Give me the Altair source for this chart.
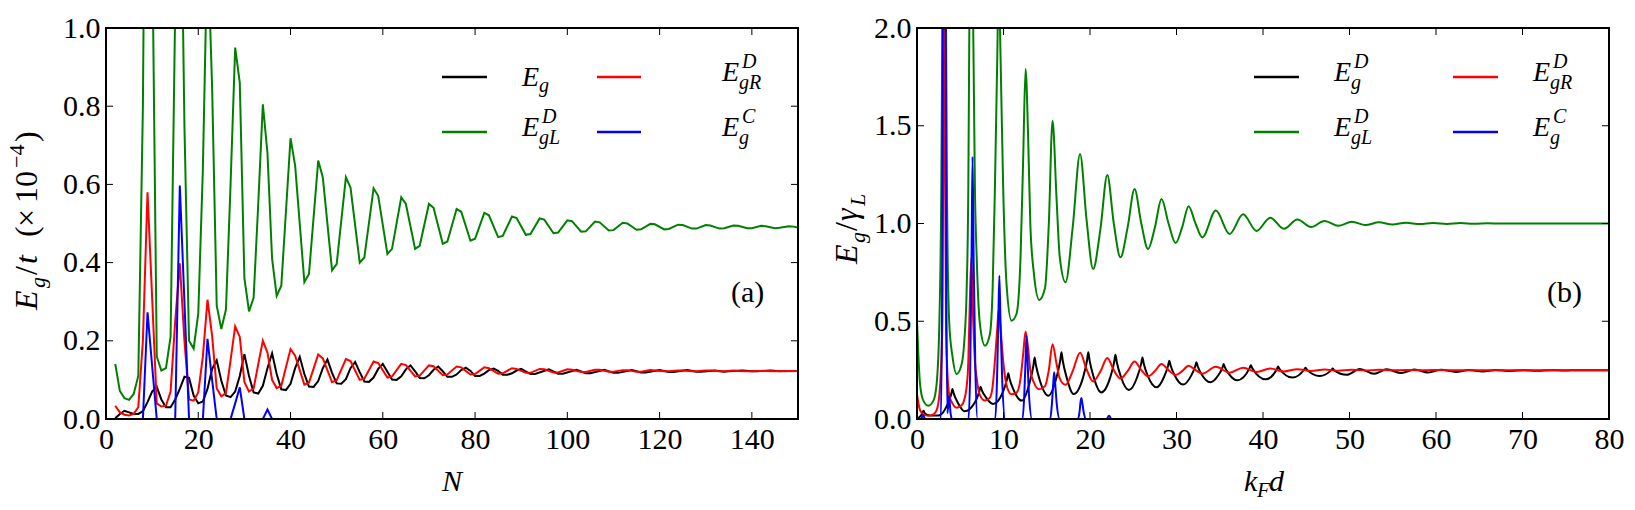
import altair as alt
import pandas as pd

SERIF = "Liberation Serif, DejaVu Serif, serif"
PW, PH = 692, 391   # plot area of each panel, px
TICK = 7            # inward tick length, px

BLACK, GREEN, RED, BLUE = "#000000", "#008000", "#ff0000", "#0000ff"

# ---------------- panel (a): gap versus number of sites N ----------------
A_BLACK = [[2,0.002],[3,0.013],[4,0.021],[5,0.017],[6,0.013],[7,0.013],[8,0.02],[9,0.043],
           [10,0.07],[11,0.082],[12,0.05],[13,0.03],[14,0.03],[15,0.05],[16,0.077],[17,0.108],
           [18,0.105],[19,0.06],[20,0.04],[21,0.045],[22,0.077],[23,0.128],[24,0.15],[25,0.098],
           [26,0.06],[27,0.056],[28,0.07],[29,0.11],[30,0.166],[31,0.11],[32,0.068],[33,0.065],
           [34,0.085],[35,0.13],[36,0.168],[37,0.115],[38,0.076],[39,0.074],[40,0.09],[41,0.13],
           [42,0.159],[43,0.115],[44,0.083],[45,0.082],[46,0.097],[47,0.13],[48,0.152],[49,0.118],
           [50,0.091],[51,0.09],[52,0.102],[53,0.13],[54,0.146],[55,0.12],[56,0.096],[57,0.095],
           [58,0.106],[59,0.128],[60,0.141],[61,0.121],[62,0.101],[63,0.1],[64,0.109],[65,0.127],
           [66,0.137],[67,0.122],[68,0.105],[69,0.104],[70,0.112],[71,0.126],[72,0.134],[73,0.122],
           [74,0.108],[75,0.108],[76,0.114],[77,0.125],[78,0.131],[79,0.123],[80,0.11],[81,0.11],
           [82,0.116],[83,0.125],[84,0.129],[85,0.123],[86,0.113],[87,0.113],[88,0.117],[89,0.124],
           [90,0.128],[92,0.115],[93,0.115],[96,0.127],[98,0.116],[99,0.116],[102,0.126],[104,0.117],
           [105,0.117],[108,0.126],[110,0.118],[111,0.118],[114,0.125],[116,0.119],[117,0.119],
           [120,0.125],[122,0.12],[123,0.12],[126,0.125],[128,0.121],[129,0.121],[132,0.124],
           [134,0.121],[135,0.122],[138,0.124],[140,0.122],[141,0.122],[144,0.124],[146,0.122],
           [150,0.123]]

A_GREEN = [[2,0.141],[3,0.072],[4,0.053],[5,0.049],[6,0.064],[7,0.11],[8,0.8],[9,2.3],[10,1.25],
           [11,0.16],[12,0.124],[13,0.13],[14,0.21],[15,1.05],[16,1.6],[17,0.75],[18,0.2],[19,0.18],
           [20,0.27],[21,0.64],[22,1.22],[23,0.85],[24,0.29],[25,0.23],[26,0.28],[27,0.6],[28,0.95],
           [29,0.86],[30,0.36],[31,0.275],[32,0.31],[33,0.55],[34,0.805],[35,0.68],[36,0.41],
           [37,0.315],[38,0.341],[40,0.718],[41,0.648],[43,0.35],[44,0.371],[46,0.661],[47,0.618],
           [49,0.38],[50,0.396],[52,0.618],[53,0.592],[55,0.40],[56,0.413],[58,0.59],[59,0.571],
           [61,0.422],[62,0.435],[64,0.567],[65,0.55],[67,0.435],[68,0.443],[70,0.55],[71,0.54],
           [73,0.448],[74,0.454],[76,0.537],[77,0.53],[79,0.456],[80,0.461],[82,0.527],[83,0.521],
           [85,0.465],[86,0.468],[88,0.518],[89,0.514],[91,0.471],[92,0.473],[94,0.513],[95,0.51],
           [97,0.475],[98,0.477],[100,0.508],[101,0.506],[103,0.479],[104,0.48],[106,0.505],
           [107,0.503],[109,0.482],[110,0.483],[112,0.502],[113,0.5],[115,0.484],[116,0.485],
           [118,0.499],[119,0.498],[121,0.485],[122,0.486],[124,0.497],[125,0.496],[127,0.487],
           [128,0.487],[130,0.496],[131,0.495],[133,0.487],[134,0.488],[136,0.495],[137,0.494],
           [139,0.488],[140,0.488],[142,0.494],[143,0.493],[145,0.488],[146,0.489],[148,0.493],
           [149,0.492],[150,0.490]]

A_RED = [[2,0.034],[3,0.017],[4,0.011],[5,0.009],[6,0.013],[7,0.03],[8,0.2],[9,0.58],[10,0.31],
         [11,0.04],[12,0.032],[13,0.034],[14,0.07],[15,0.25],[16,0.398],[17,0.2],[18,0.05],
         [19,0.047],[20,0.068],[21,0.16],[22,0.305],[23,0.213],[24,0.078],[25,0.058],[26,0.066],
         [27,0.15],[28,0.237],[29,0.21],[30,0.095],[31,0.07],[32,0.078],[33,0.14],[34,0.2],
         [35,0.17],[36,0.1],[37,0.079],[38,0.085],[40,0.179],[41,0.162],[43,0.088],[44,0.093],
         [46,0.165],[47,0.155],[49,0.094],[50,0.099],[52,0.153],[53,0.148],[55,0.1],[56,0.103],
         [58,0.147],[59,0.143],[61,0.106],[62,0.109],[64,0.141],[65,0.138],[67,0.109],[68,0.111],
         [70,0.137],[71,0.135],[73,0.112],[74,0.114],[76,0.134],[77,0.132],[79,0.114],[80,0.115],
         [82,0.132],[83,0.13],[85,0.116],[86,0.117],[88,0.13],[89,0.128],[91,0.118],[92,0.118],
         [94,0.128],[95,0.127],[97,0.119],[98,0.119],[100,0.127],[101,0.126],[103,0.12],[104,0.12],
         [106,0.126],[107,0.126],[109,0.121],[110,0.121],[112,0.125],[113,0.125],[115,0.121],
         [116,0.121],[118,0.125],[119,0.124],[121,0.122],[122,0.122],[124,0.124],[125,0.124],
         [127,0.122],[128,0.122],[130,0.124],[131,0.124],[133,0.122],[134,0.122],[136,0.124],
         [137,0.123],[139,0.122],[140,0.122],[142,0.123],[143,0.123],[145,0.122],[146,0.123],
         [148,0.123],[150,0.123]]

A_BLUE = [[2,0],[8,0],[9,0.273],[10,0.136],[11,0],[15,0],[16,0.597],[17,0.3],[18,0],[21,0],
          [22,0.205],[23,0.1],[24,0],[27,0],[28,0.04],[29,0.081],[30,0],[34,0],[35,0.024],[36,0],
          [150,0]]

# ---------------- panel (b): gap versus k_F d ----------------
B_BLACK = [[0.0,0.0],[0.5,0.02],[0.75,0.042],[0.95,0.026],[1.5,0.018],[2.5,0.018],
           [3.5,0.072],[3.95,0.126],[4.1,0.153],[4.25,0.13],[4.7,0.085],[5.5,0.04],
           [6.75,0.09],[7.2,0.14],[7.35,0.165],[7.5,0.147],[7.95,0.112],[8.8,0.077],
           [9.95,0.14],[10.4,0.203],[10.55,0.234],[10.7,0.206],[11.15,0.15],[12.1,0.094],
           [13.0,0.182],[13.45,0.271],[13.6,0.315],[13.75,0.276],[14.2,0.197],[15.2,0.119],
           [16.1,0.208],[16.55,0.297],[16.7,0.341],[16.85,0.298],[17.3,0.213],[18.1,0.128],
           [19.2,0.213],[19.65,0.298],[19.8,0.341],[19.95,0.3],[20.4,0.218],[21.3,0.136],
           [22.34,0.213],[22.79,0.29],[22.94,0.329],[23.09,0.293],[23.54,0.22],[24.5,0.148],
           [25.46,0.215],[25.91,0.282],[26.06,0.315],[26.21,0.284],[26.66,0.223],[27.7,0.162],
           [28.57,0.216],[29.02,0.271],[29.17,0.298],[29.32,0.274],[29.77,0.225],[30.75,0.176],
           [31.7,0.222],[32.15,0.267],[32.3,0.29],[32.45,0.27],[32.9,0.229],[33.9,0.188],
           [34.85,0.225],[35.3,0.262],[35.45,0.281],[35.6,0.264],[36.05,0.231],[37.05,0.198],
           [38.45,0.26],[38.6,0.275],[38.75,0.261],[40.3,0.203],
           [41.6,0.255],[41.75,0.268],[41.9,0.257],[43.4,0.212],
           [44.75,0.252],[44.9,0.262],[45.05,0.254],[46.55,0.22],
           [47.9,0.25],[48.05,0.258],[48.2,0.25],[49.7,0.226],
           [51.2,0.256],[52.85,0.231],[54.3,0.254],[56.0,0.235],[57.5,0.253],[59.1,0.238],
           [60.6,0.252],[62.3,0.241],[63.8,0.251],[65.4,0.243],[66.9,0.251],[68.6,0.245],
           [70.1,0.25],[71.7,0.247],[73.2,0.25],[74.9,0.248],[76.4,0.25],[78.0,0.249],[80.0,0.25]]

B_GREEN = [[0.0,0.503],[0.35,0.18],[0.73,0.094],[1.3,0.068],[1.9,0.094],[2.27,0.18],[2.58,0.486],
           [2.77,1.0],[2.93,2.0],[3.14,8.0],[3.35,2.0],[3.5,1.0],[3.73,0.49],[4.1,0.32],[4.58,0.23],
           [5.16,0.28],[5.47,0.4],[5.74,0.66],[5.93,1.17],[6.05,2.0],[6.28,3.3],[6.5,2.0],[6.7,1.17],
           [6.9,0.83],[7.27,0.486],[7.85,0.375],[8.43,0.435],[8.74,0.66],[9.0,1.17],[9.28,1.85],
           [9.45,2.25],[9.66,1.85],[9.97,1.17],[10.35,0.69],[10.93,0.503],[11.5,0.537],[11.97,0.827],
           [12.28,1.34],[12.55,1.79],[12.86,1.42],[13.1,1.0],[13.5,0.75],[14.13,0.609],[14.8,0.67],
           [15.24,1.0],[15.67,1.526],[16.13,1.13],[16.5,0.83],[17.17,0.699],[18.0,0.98],[18.85,1.356],
           [19.6,1.02],[20.36,0.767],[21.2,0.97],[22.0,1.248],[22.75,1.0],[23.52,0.827],[24.35,0.98],
           [25.15,1.176],[25.93,1.0],[26.71,0.87],[27.5,0.98],[28.27,1.125],[29.08,1.0],[29.9,0.9],
           [30.65,0.98],[31.4,1.088],[32.2,1.0],[32.98,0.929],[34.55,1.066],[36.14,0.946],
           [37.7,1.047],[39.25,0.962],[40.84,1.03],[42.4,0.973],[43.98,1.02],[45.55,0.982],
           [47.12,1.013],[48.7,0.988],[50.27,1.009],[51.84,0.992],[53.41,1.006],[54.98,0.995],
           [56.55,1.004],[58.12,0.997],[59.69,1.003],[61.26,0.998],[62.83,1.002],[64.4,0.999],
           [65.97,1.001],[67.54,0.9995],[80.0,1.0]]

B_RED = [[0.0,0.126],[0.35,0.045],[0.73,0.024],[1.3,0.017],[1.9,0.024],[2.27,0.045],[2.58,0.122],
         [2.77,0.25],[2.93,0.5],[3.14,2.0],[3.35,0.5],[3.5,0.25],[3.73,0.123],[4.1,0.08],[4.58,0.058],
         [5.16,0.07],[5.47,0.1],[5.74,0.165],[5.93,0.293],[6.05,0.5],[6.28,0.825],[6.5,0.5],
         [6.7,0.293],[6.9,0.208],[7.27,0.122],[7.85,0.094],[8.43,0.109],[8.74,0.165],[9.0,0.293],
         [9.28,0.463],[9.45,0.563],[9.66,0.463],[9.97,0.293],[10.35,0.173],[10.93,0.126],
         [11.5,0.134],[11.97,0.207],[12.28,0.335],[12.55,0.448],[12.86,0.355],[13.1,0.25],
         [13.5,0.188],[14.13,0.152],[14.8,0.168],[15.24,0.25],[15.67,0.382],[16.13,0.283],
         [16.5,0.208],[17.17,0.175],[18.0,0.245],[18.85,0.339],[19.6,0.255],[20.36,0.192],
         [21.2,0.243],[22.0,0.312],[22.75,0.25],[23.52,0.207],[24.35,0.245],[25.15,0.294],
         [25.93,0.25],[26.71,0.218],[27.5,0.245],[28.27,0.281],[29.08,0.25],[29.9,0.225],
         [30.65,0.245],[31.4,0.272],[32.2,0.25],[32.98,0.232],[34.55,0.267],[36.14,0.237],
         [37.7,0.262],[39.25,0.241],[40.84,0.258],[42.4,0.243],[43.98,0.255],[45.55,0.246],
         [47.12,0.253],[48.7,0.247],[50.27,0.252],[51.84,0.248],[53.41,0.252],[54.98,0.249],
         [56.55,0.251],[58.12,0.249],[59.69,0.251],[61.26,0.25],[80.0,0.25]]

B_BLUE = [[0.0,0.0],[0.45,0.0],[0.7,0.02],[0.95,0.0],[2.75,0.0],[2.9,0.6],[3.0,2.4],[3.15,6.0],
          [3.3,2.4],[3.4,0.6],[3.52,0.03],[3.7,0.12],[3.88,0.03],[4.05,0.0],[5.95,0.0],[6.15,0.25],
          [6.3,0.8],[6.42,1.342],[6.55,0.8],[6.75,0.25],[7.0,0.0],[9.05,0.0],[9.25,0.2],[9.4,0.5],
          [9.52,0.733],[9.65,0.5],[9.85,0.2],[10.2,0.0],[12.2,0.0],[12.4,0.12],[12.55,0.3],
          [12.66,0.426],[12.78,0.3],[12.95,0.12],[13.3,0.0],[15.4,0.0],[15.6,0.08],[15.75,0.18],
          [15.86,0.239],[15.98,0.18],[16.15,0.08],[16.5,0.0],[18.6,0.0],[18.8,0.04],[18.9,0.085],
          [19.0,0.107],[19.1,0.085],[19.25,0.04],[19.5,0.0],[21.9,0.0],[22.2,0.017],[22.5,0.0],
          [80.0,0.0]]

A_XTICKS = [0, 20, 40, 60, 80, 100, 120, 140]
A_YTICKS = [0.0, 0.2, 0.4, 0.6, 0.8, 1.0]
B_XTICKS = [0, 10, 20, 30, 40, 50, 60, 70, 80]
B_YTICKS = [0.0, 0.5, 1.0, 1.5, 2.0]

ONE = pd.DataFrame({"k": [0]})


def pts(pairs):
    return pd.DataFrame(pairs, columns=["x", "y"])


def label(text, x, y, size=30, italic=False, angle=0, align="left"):
    return alt.Chart(ONE).mark_text(
        text=text, font=SERIF, fontSize=size,
        fontStyle="italic" if italic else "normal",
        angle=angle, align=align, baseline="alphabetic", color="black",
    ).encode(x=alt.value(x), y=alt.value(y))


def swatch(color, x1, x2, y):
    return alt.Chart(ONE).mark_rule(color=color, strokeWidth=2.5).encode(
        x=alt.value(x1), x2=alt.value(x2), y=alt.value(y))


def vlabel(text, x, y, size=32, italic=False):
    # text reading bottom-to-top, anchored on its baseline
    return label(text, x, y, size, italic, angle=270)


def panel(curves, xdom, ydom, xticks, yticks, yfmt, interp, notes):
    xs = alt.Scale(domain=xdom, nice=False, zero=False)
    ys = alt.Scale(domain=ydom, nice=False, zero=False)
    common = dict(title=None, grid=False, domain=False, ticks=False, tickSize=0,
                  labelFont=SERIF, labelFontSize=30, labelColor="black",
                  labelOverlap=False)
    xax = alt.Axis(values=xticks, format="d", labelPadding=5, labelFlush=False, **common)
    yax = alt.Axis(values=yticks, format=yfmt, labelPadding=6, **common)
    X = alt.X("x:Q", scale=xs, axis=xax)
    Y = alt.Y("y:Q", scale=ys, axis=yax)
    layers = [
        alt.Chart(pts(pairs)).mark_line(color=color, strokeWidth=2, clip=True,
                                        interpolate=interp).encode(x=X, y=Y)
        for pairs, color in curves
    ]
    xt = alt.Chart(pd.DataFrame({"x": xticks}))
    yt = alt.Chart(pd.DataFrame({"y": yticks}))
    tk = dict(color="black", strokeWidth=1)
    layers += [
        xt.mark_rule(**tk).encode(x=X, y=alt.value(0), y2=alt.value(TICK)),
        xt.mark_rule(**tk).encode(x=X, y=alt.value(PH - TICK), y2=alt.value(PH)),
        yt.mark_rule(**tk).encode(y=Y, x=alt.value(0), x2=alt.value(TICK)),
        yt.mark_rule(**tk).encode(y=Y, x=alt.value(PW - TICK), x2=alt.value(PW)),
        alt.Chart(ONE).mark_rect(fillOpacity=0, stroke="black", strokeWidth=2).encode(
            x=alt.value(0), x2=alt.value(PW), y=alt.value(0), y2=alt.value(PH)),
    ]
    layers += notes
    return alt.layer(*layers).properties(width=PW, height=PH)


a_notes = [
    swatch(BLACK, 336, 381, 49), swatch(GREEN, 336, 381, 104),
    swatch(RED, 491, 535, 49), swatch(BLUE, 491, 535, 104),
    label("E", 416, 58, 28, True), label("g", 433, 64, 20, True),
    label("E", 416, 108, 28, True), label("D", 436, 95, 20, True), label("gL", 433, 116, 20, True),
    label("E", 616, 53, 28, True), label("D", 636, 40, 20, True), label("gR", 633, 61, 20, True),
    label("E", 616, 108, 28, True), label("C", 636, 95, 20, True), label("g", 633, 116, 20, True),
    label("(a)", 625, 274, 30),
    label("N", 346, 463, 30, True, align="center"),
    # y title: E_g/t (x10^-4), bottom to top
    vlabel("E", -69, 282, 32, True), vlabel("g", -61, 260, 22, True),
    vlabel("/", -69, 247), vlabel("t", -69, 236, 32, True),
    vlabel("(", -69, 209), vlabel("\u00d7", -69, 199), vlabel("10", -69, 175),
    vlabel("\u22124", -82, 140, 22), vlabel(")", -69, 114),
]

b_notes = [
    swatch(BLACK, 337, 382, 49), swatch(GREEN, 337, 382, 104),
    swatch(RED, 536, 581, 49), swatch(BLUE, 536, 581, 104),
    label("E", 417, 53, 28, True), label("D", 437, 40, 20, True), label("g", 434, 61, 20, True),
    label("E", 417, 108, 28, True), label("D", 437, 95, 20, True), label("gL", 434, 116, 20, True),
    label("E", 616, 53, 28, True), label("D", 636, 40, 20, True), label("gR", 633, 61, 20, True),
    label("E", 616, 108, 28, True), label("C", 636, 95, 20, True), label("g", 633, 116, 20, True),
    label("(b)", 630, 274, 30),
    label("k", 327, 463, 30, True), label("F", 340, 469, 21, True), label("d", 352, 463, 30, True),
    # y title: E_g/gamma_L, bottom to top
    vlabel("E", -60, 236, 32, True), vlabel("g", -52, 215, 22, True),
    vlabel("/", -60, 203), vlabel("\u03b3", -60, 193, 32, True), vlabel("L", -52, 178, 22, True),
]

left = panel([(A_BLACK, BLACK), (A_GREEN, GREEN), (A_RED, RED), (A_BLUE, BLUE)],
             [0, 150], [0, 1.0], A_XTICKS, A_YTICKS, ".1f", "linear", a_notes)
right = panel([(B_BLACK, BLACK), (B_GREEN, GREEN), (B_RED, RED), (B_BLUE, BLUE)],
              [0, 80], [0, 2.0], B_XTICKS, B_YTICKS, ".1f", "monotone", b_notes)

chart = (
    alt.hconcat(left, right, spacing=30)
    .properties(padding={"left": 5, "top": 12, "right": 5, "bottom": 5})
    .configure_view(stroke="transparent")
    .configure(background="white")
)

chart.save("out.html", embed_options={"renderer": "svg", "actions": False})
